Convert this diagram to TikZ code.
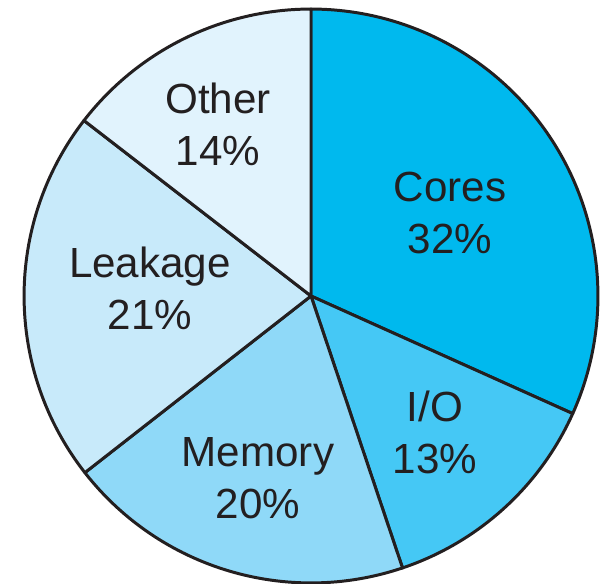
\documentclass[tikz,border=0pt]{standalone}
\usepackage{fontspec}
\setmainfont{Liberation Sans}
\usetikzlibrary{positioning}
\definecolor{CoresBlue}{HTML}{00B9EE}
\definecolor{IOBlue}{HTML}{45C8F5}
\definecolor{MemoryBlue}{HTML}{8FD9F8}
\definecolor{LeakageBlue}{HTML}{C8EAFA}
\definecolor{OtherBlue}{HTML}{E1F3FD}
\definecolor{EdgeGrey}{HTML}{231F20}
\definecolor{TextGrey}{HTML}{231F20}
\tikzset{
    slice/.style={draw=EdgeGrey, line width=1.7pt, line join=round},
    share/.style={align=center, text=TextGrey, font=\fontsize{24}{29.6}\selectfont}
}

\begin{document}
\begin{tikzpicture}[x=0.02cm, y=0.02cm]
\useasboundingbox (0,0) rectangle (606,584);
\coordinate (centre) at (311,288);

\draw[slice, fill=CoresBlue] (centre) -- ++(90:5.74cm)
    arc[start angle=90, end angle=-24.2, radius=5.74cm] -- cycle;
\draw[slice, fill=IOBlue] (centre) -- ++(-24.2:5.74cm)
    arc[start angle=-24.2, end angle=-71.4, radius=5.74cm] -- cycle;
\draw[slice, fill=MemoryBlue] (centre) -- ++(-71.4:5.74cm)
    arc[start angle=-71.4, end angle=-142, radius=5.74cm] -- cycle;
\draw[slice, fill=LeakageBlue] (centre) -- ++(-142:5.74cm)
    arc[start angle=-142, end angle=-217.7, radius=5.74cm] -- cycle;
\draw[slice, fill=OtherBlue] (centre) -- ++(142.3:5.74cm)
    arc[start angle=142.3, end angle=90, radius=5.74cm] -- cycle;

\node[share] (cores) at (450,371) {Cores\\32\%};
\node[share] (io) at (435,152) {I/O\\13\%};
\node[share] (memory) at (258,106) {Memory\\20\%};
\node[share] (leakage) at (150,296) {Leakage\\21\%};
\node[share] (other) at (218,460) {Other\\14\%};
\end{tikzpicture}
\end{document}
